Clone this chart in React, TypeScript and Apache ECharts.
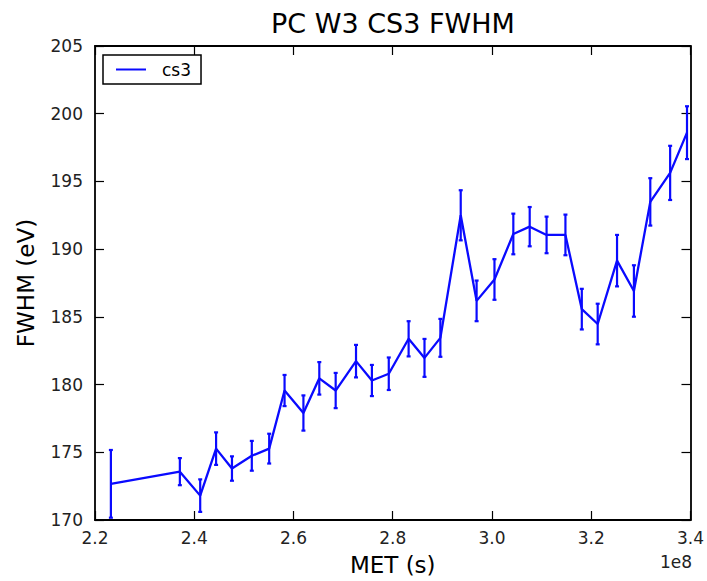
import React, { useEffect, useRef } from "react";
import * as echarts from "echarts";

// MET in units of 1e8 s
const MET = [2.232, 2.371, 2.412, 2.444, 2.476, 2.516, 2.551, 2.582, 2.62, 2.652, 2.685, 2.726, 2.758, 2.792, 2.832, 2.864, 2.896, 2.937, 2.969, 3.005, 3.043, 3.076, 3.11, 3.148, 3.181, 3.213, 3.252, 3.286, 3.319, 3.359, 3.393];
const FWHM = [172.67, 173.57, 171.8, 175.27, 173.8, 174.74, 175.27, 179.56, 177.9, 180.46, 179.56, 181.73, 180.3, 180.8, 183.38, 181.97, 183.45, 192.5, 186.18, 187.76, 191.12, 191.66, 191.05, 191.05, 185.57, 184.47, 189.15, 186.91, 193.49, 195.63, 198.6];
const ERR = [2.5, 1.0, 1.2, 1.2, 0.9, 1.1, 1.1, 1.15, 1.3, 1.2, 1.3, 1.2, 1.15, 1.2, 1.3, 1.4, 1.4, 1.85, 1.5, 1.5, 1.5, 1.45, 1.35, 1.5, 1.5, 1.5, 1.9, 1.9, 1.75, 2.0, 1.95];
const SERIES_NAME = "cs3";
const TITLE = "PC W3 CS3 FWHM";
const X_LABEL = "MET (s)";
const Y_LABEL = "FWHM (eV)";
const X_OFFSET_LABEL = "1e8";

const BLUE = "#0a0aff";
const FONT = "DejaVu Sans";

export default function App() {
  const ref = useRef<HTMLDivElement>(null);
  useEffect(() => {
    if (!ref.current) return;
    const chart = echarts.init(ref.current, null, { renderer: "svg" });
    const lineData = MET.map((x, i) => [x, FWHM[i]]);
    const errData = MET.map((x, i) => [x, FWHM[i] - ERR[i], FWHM[i] + ERR[i]]);
    const tickStyle = { inside: true, length: 9, lineStyle: { color: "#000", width: 1.2 } };
    const axisLine = { show: true, onZero: false, lineStyle: { color: "#000", width: 1.8 } };
    chart.setOption({
      animation: false,
      backgroundColor: "#fff",
      title: {
        text: TITLE,
        left: 266,
        top: 5,
        textStyle: { fontFamily: FONT, fontSize: 27, fontWeight: "normal", color: "#000" },
      },
      legend: {
        left: 103,
        top: 55,
        orient: "vertical",
        data: [{ name: SERIES_NAME, icon: "rect" }],
        itemWidth: 30,
        itemHeight: 2,
        padding: [6, 10, 6, 13],
        borderColor: "#000",
        borderWidth: 1.5,
        borderRadius: 0,
        textStyle: { fontFamily: FONT, fontSize: 17, color: "#000", padding: [0, 0, 0, 11] },
      },
      grid: { left: 95, right: 14, top: 46, bottom: 56, show: false },
      xAxis: [
        {
          type: "value",
          min: 2.2,
          max: 3.4,
          interval: 0.2,
          position: "bottom",
          axisLine,
          axisTick: tickStyle,
          splitLine: { show: false },
          axisLabel: {
            formatter: (v: number) => v.toFixed(1),
            fontFamily: FONT,
            fontSize: 17,
            color: "#222",
            margin: 9,
          },
          name: X_LABEL,
          nameLocation: "middle",
          nameGap: 33,
          nameTextStyle: { fontFamily: FONT, fontSize: 23, color: "#000" },
        },
        {
          type: "value",
          min: 2.2,
          max: 3.4,
          interval: 0.2,
          position: "top",
          axisLine,
          axisTick: tickStyle,
          splitLine: { show: false },
          axisLabel: { show: false },
        },
      ],
      yAxis: [
        {
          type: "value",
          min: 170,
          max: 205,
          interval: 5,
          position: "left",
          axisLine,
          axisTick: tickStyle,
          splitLine: { show: false },
          axisLabel: { fontFamily: FONT, fontSize: 17, color: "#222", margin: 12 },
          name: Y_LABEL,
          nameLocation: "middle",
          nameGap: 58,
          nameTextStyle: { fontFamily: FONT, fontSize: 23, color: "#000" },
        },
        {
          type: "value",
          min: 170,
          max: 205,
          interval: 5,
          position: "right",
          axisLine,
          axisTick: tickStyle,
          splitLine: { show: false },
          axisLabel: { show: false },
        },
      ],
      series: [
        {
          name: SERIES_NAME,
          type: "line",
          data: lineData,
          symbol: "none",
          lineStyle: { color: BLUE, width: 2.3 },
          itemStyle: { color: BLUE },
          z: 3,
        },
        {
          name: SERIES_NAME + "-err",
          type: "custom",
          data: errData,
          clip: true,
          z: 2,
          renderItem: (params: any, api: any) => {
            const x = api.value(0);
            const lo = api.coord([x, api.value(1)]);
            const hi = api.coord([x, api.value(2)]);
            const cw = 2;
            const style = { stroke: BLUE, lineWidth: 2.2, fill: "none" };
            return {
              type: "group",
              children: [
                { type: "line", shape: { x1: lo[0], y1: lo[1], x2: hi[0], y2: hi[1] }, style },
                { type: "line", shape: { x1: hi[0] - cw, y1: hi[1], x2: hi[0] + cw, y2: hi[1] }, style },
                { type: "line", shape: { x1: lo[0] - cw, y1: lo[1], x2: lo[0] + cw, y2: lo[1] }, style },
              ],
            };
          },
        },
      ],
      graphic: [
        {
          type: "text",
          right: 15,
          top: 553,
          style: { text: X_OFFSET_LABEL, fontFamily: FONT, fontSize: 17, fill: "#222" },
        },
      ],
    });
    return () => chart.dispose();
  }, []);
  return (
    <div
      ref={ref}
      style={{ position: "fixed", left: 0, top: 0, width: 707, height: 581, background: "#fff" }}
    />
  );
}
